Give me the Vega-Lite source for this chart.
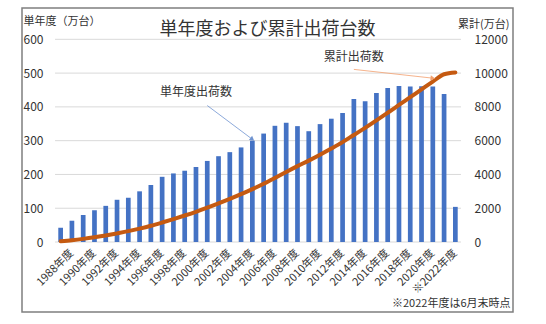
{
  "$schema": "https://vega.github.io/schema/vega-lite/v6.json",
  "autosize": {"type": "none"},
  "padding": {"left": 22, "top": 8, "right": 33, "bottom": 12},
  "width": 491,
  "height": 304,
  "background": "white",
  "config": {
    "view": {"stroke": "#7f7f7f", "strokeWidth": 1.5},
    "font": "Noto Sans CJK JP",
    "text": {"font": "Noto Sans CJK JP"}
  },
  "title": {
    "text": "単年度および累計出荷台数",
    "fontSize": 18,
    "fontWeight": "normal",
    "color": "#333333",
    "anchor": "middle",
    "frame": "group",
    "baseline": "middle",
    "offset": -40
  },
  "datasets": {
    "main": [
      {"year": 1987, "single": 42, "cumulative": 42},
      {"year": 1988, "single": 63, "cumulative": 105},
      {"year": 1989, "single": 80, "cumulative": 185},
      {"year": 1990, "single": 94, "cumulative": 279},
      {"year": 1991, "single": 107, "cumulative": 386},
      {"year": 1992, "single": 125, "cumulative": 511},
      {"year": 1993, "single": 131, "cumulative": 642},
      {"year": 1994, "single": 150, "cumulative": 792},
      {"year": 1995, "single": 169, "cumulative": 961},
      {"year": 1996, "single": 193, "cumulative": 1154},
      {"year": 1997, "single": 203, "cumulative": 1357},
      {"year": 1998, "single": 211, "cumulative": 1568},
      {"year": 1999, "single": 222, "cumulative": 1790},
      {"year": 2000, "single": 240, "cumulative": 2030},
      {"year": 2001, "single": 254, "cumulative": 2284},
      {"year": 2002, "single": 266, "cumulative": 2550},
      {"year": 2003, "single": 280, "cumulative": 2830},
      {"year": 2004, "single": 300, "cumulative": 3130},
      {"year": 2005, "single": 321, "cumulative": 3451},
      {"year": 2006, "single": 344, "cumulative": 3795},
      {"year": 2007, "single": 353, "cumulative": 4148},
      {"year": 2008, "single": 343, "cumulative": 4491},
      {"year": 2009, "single": 328, "cumulative": 4819},
      {"year": 2010, "single": 349, "cumulative": 5168},
      {"year": 2011, "single": 365, "cumulative": 5533},
      {"year": 2012, "single": 382, "cumulative": 5915},
      {"year": 2013, "single": 423, "cumulative": 6338},
      {"year": 2014, "single": 417, "cumulative": 6755},
      {"year": 2015, "single": 441, "cumulative": 7196},
      {"year": 2016, "single": 456, "cumulative": 7652},
      {"year": 2017, "single": 462, "cumulative": 8114},
      {"year": 2018, "single": 460, "cumulative": 8574},
      {"year": 2019, "single": 461, "cumulative": 9035},
      {"year": 2020, "single": 460, "cumulative": 9495},
      {"year": 2021, "single": 438, "cumulative": 9933},
      {"year": 2022, "single": 104, "cumulative": 10037}
    ],
    "grid": [
      {"v": 0, "from": 1987, "to": 2022},
      {"v": 100, "from": 1987, "to": 2022},
      {"v": 200, "from": 1987, "to": 2022},
      {"v": 300, "from": 1987, "to": 2022},
      {"v": 400, "from": 1987, "to": 2022},
      {"v": 500, "from": 1987, "to": 2022},
      {"v": 600, "from": 1987, "to": 2022}
    ],
    "notes": [
      {"id": 1, "label": "単年度出荷数", "year": 1999, "value": 443},
      {"id": 2, "label": "累計出荷数", "year": 2013, "value": 548}
    ],
    "arrows": [
      {"id": 1, "year": 2000, "value": 404, "year2": 2004, "value2": 304},
      {"id": 2, "year": 2013, "value": 511, "year2": 2020, "value2": 485}
    ]
  },
  "layer": [
    {
      "data": {"name": "grid"},
      "mark": {"type": "rule", "color": "#d9d9d9", "strokeWidth": 1, "xOffset": -5.6, "x2Offset": 5.6},
      "encoding": {
        "x": {"field": "from", "type": "ordinal",
              "scale": {"type": "band", "range": [33, 439], "paddingInner": 0.583, "paddingOuter": 0.2915},
              "axis": {"orient": "bottom", "title": "※2022年度は6月末時点", "titleX": 488, "titleY": 61, "titleAlign": "right", "titleBaseline": "middle", "titleFontSize": 11, "titleFontWeight": "normal", "titleColor": "#333333", "labelAngle": -45, "labelAlign": "right", "labelBaseline": "middle", "labelPadding": 9, "labelFontSize": 11, "labelColor": "#333333", "labelOverlap": false, "labelExpr": "datum.value % 2 == 0 ? (datum.value == 2022 ? '※2022年度' : datum.value + '年度') : ''", "ticks": false, "domain": false, "grid": false, "offset": -70}},
        "x2": {"field": "to"},
        "y": {"field": "v", "type": "quantitative", "axis": null,
              "scale": {"domain": [-207.2, 692.7], "nice": false, "zero": false}}
      }
    },
    {
      "data": {"name": "main"},
      "mark": {"type": "bar", "color": "#4472C4"},
      "encoding": {
        "x": {"field": "year", "type": "ordinal",
              "scale": {"type": "band", "range": [33, 439], "paddingInner": 0.583, "paddingOuter": 0.2915},
              "axis": {"orient": "bottom", "title": "※2022年度は6月末時点", "titleX": 488, "titleY": 61, "titleAlign": "right", "titleBaseline": "middle", "titleFontSize": 11, "titleFontWeight": "normal", "titleColor": "#333333", "labelAngle": -45, "labelAlign": "right", "labelBaseline": "middle", "labelPadding": 9, "labelFontSize": 11, "labelColor": "#333333", "labelOverlap": false, "labelExpr": "datum.value % 2 == 0 ? (datum.value == 2022 ? '※2022年度' : datum.value + '年度') : ''", "ticks": false, "domain": false, "grid": false, "offset": -70}},
        "y": {
          "field": "single", "type": "quantitative",
          "scale": {"domain": [-207.2, 692.7], "nice": false, "zero": false},
          "axis": {
            "values": [0, 100, 200, 300, 400, 500, 600],
            "title": "単年度（万台）", "titleAngle": 0, "titleX": -20, "titleY": 13.7,
            "titleAlign": "left", "titleBaseline": "middle", "titleFontSize": 11,
            "titleFontWeight": "normal", "titleColor": "#333333",
            "labelFontSize": 12, "labelColor": "#333333", "labelPadding": 0,
            "ticks": false, "domain": false, "grid": false, "offset": -21, "orient": "left"
          }
        },
        "y2": {"datum": 0}
      }
    },
    {
      "data": {"name": "main"},
      "mark": {"type": "line", "color": "#C55A11", "strokeWidth": 4, "interpolate": "monotone", "strokeCap": "round"},
      "encoding": {
        "x": {"field": "year", "type": "ordinal",
              "scale": {"type": "band", "range": [33, 439], "paddingInner": 0.583, "paddingOuter": 0.2915},
              "axis": {"orient": "bottom", "title": "※2022年度は6月末時点", "titleX": 488, "titleY": 61, "titleAlign": "right", "titleBaseline": "middle", "titleFontSize": 11, "titleFontWeight": "normal", "titleColor": "#333333", "labelAngle": -45, "labelAlign": "right", "labelBaseline": "middle", "labelPadding": 9, "labelFontSize": 11, "labelColor": "#333333", "labelOverlap": false, "labelExpr": "datum.value % 2 == 0 ? (datum.value == 2022 ? '※2022年度' : datum.value + '年度') : ''", "ticks": false, "domain": false, "grid": false, "offset": -70}},
        "y": {
          "field": "cumulative", "type": "quantitative",
          "scale": {"domain": [-4144, 13854], "nice": false, "zero": false},
          "axis": {
            "orient": "right",
            "values": [0, 2000, 4000, 6000, 8000, 10000, 12000],
            "format": "d",
            "title": "累計(万台)", "titleAngle": 0, "titleX": 35, "titleY": 16.5,
            "titleAlign": "right", "titleBaseline": "middle", "titleFontSize": 11,
            "titleFontWeight": "normal", "titleColor": "#333333",
            "labelFontSize": 12, "labelColor": "#333333", "labelPadding": 0, "labelAlign": "left",
            "ticks": false, "domain": false, "grid": false, "offset": -39
          }
        }
      }
    },
    {
      "data": {"name": "notes"},
      "mark": {"type": "text", "fontSize": 12, "color": "#333333", "baseline": "middle"},
      "encoding": {
        "x": {"field": "year", "type": "ordinal",
              "scale": {"type": "band", "range": [33, 439], "paddingInner": 0.583, "paddingOuter": 0.2915},
              "axis": {"orient": "bottom", "title": "※2022年度は6月末時点", "titleX": 488, "titleY": 61, "titleAlign": "right", "titleBaseline": "middle", "titleFontSize": 11, "titleFontWeight": "normal", "titleColor": "#333333", "labelAngle": -45, "labelAlign": "right", "labelBaseline": "middle", "labelPadding": 9, "labelFontSize": 11, "labelColor": "#333333", "labelOverlap": false, "labelExpr": "datum.value % 2 == 0 ? (datum.value == 2022 ? '※2022年度' : datum.value + '年度') : ''", "ticks": false, "domain": false, "grid": false, "offset": -70}},
        "y": {"field": "value", "type": "quantitative", "axis": null,
              "scale": {"domain": [-207.2, 692.7], "nice": false, "zero": false}},
        "text": {"field": "label"}
      }
    },
    {
      "data": {"name": "arrows"},
      "transform": [{"filter": "datum.id == 1"}],
      "mark": {"type": "rule", "color": "#6F93D0", "strokeWidth": 0.8},
      "encoding": {
        "x": {"field": "year", "type": "ordinal",
              "scale": {"type": "band", "range": [33, 439], "paddingInner": 0.583, "paddingOuter": 0.2915},
              "axis": {"orient": "bottom", "title": "※2022年度は6月末時点", "titleX": 488, "titleY": 61, "titleAlign": "right", "titleBaseline": "middle", "titleFontSize": 11, "titleFontWeight": "normal", "titleColor": "#333333", "labelAngle": -45, "labelAlign": "right", "labelBaseline": "middle", "labelPadding": 9, "labelFontSize": 11, "labelColor": "#333333", "labelOverlap": false, "labelExpr": "datum.value % 2 == 0 ? (datum.value == 2022 ? '※2022年度' : datum.value + '年度') : ''", "ticks": false, "domain": false, "grid": false, "offset": -70}},
        "x2": {"field": "year2"},
        "y": {"field": "value", "type": "quantitative", "axis": null,
              "scale": {"domain": [-207.2, 692.7], "nice": false, "zero": false}},
        "y2": {"field": "value2"}
      }
    },
    {
      "data": {"name": "arrows"},
      "transform": [{"filter": "datum.id == 1"}],
      "mark": {"type": "point", "shape": "triangle-right", "filled": true, "size": 28, "angle": 37, "color": "#6F93D0", "opacity": 1},
      "encoding": {
        "x": {"field": "year2", "type": "ordinal",
              "scale": {"type": "band", "range": [33, 439], "paddingInner": 0.583, "paddingOuter": 0.2915},
              "axis": {"orient": "bottom", "title": "※2022年度は6月末時点", "titleX": 488, "titleY": 61, "titleAlign": "right", "titleBaseline": "middle", "titleFontSize": 11, "titleFontWeight": "normal", "titleColor": "#333333", "labelAngle": -45, "labelAlign": "right", "labelBaseline": "middle", "labelPadding": 9, "labelFontSize": 11, "labelColor": "#333333", "labelOverlap": false, "labelExpr": "datum.value % 2 == 0 ? (datum.value == 2022 ? '※2022年度' : datum.value + '年度') : ''", "ticks": false, "domain": false, "grid": false, "offset": -70}},
        "y": {"field": "value2", "type": "quantitative", "axis": null,
              "scale": {"domain": [-207.2, 692.7], "nice": false, "zero": false}}
      }
    },
    {
      "data": {"name": "arrows"},
      "transform": [{"filter": "datum.id == 2"}],
      "mark": {"type": "rule", "color": "#F2A06E", "strokeWidth": 0.8},
      "encoding": {
        "x": {"field": "year", "type": "ordinal",
              "scale": {"type": "band", "range": [33, 439], "paddingInner": 0.583, "paddingOuter": 0.2915},
              "axis": {"orient": "bottom", "title": "※2022年度は6月末時点", "titleX": 488, "titleY": 61, "titleAlign": "right", "titleBaseline": "middle", "titleFontSize": 11, "titleFontWeight": "normal", "titleColor": "#333333", "labelAngle": -45, "labelAlign": "right", "labelBaseline": "middle", "labelPadding": 9, "labelFontSize": 11, "labelColor": "#333333", "labelOverlap": false, "labelExpr": "datum.value % 2 == 0 ? (datum.value == 2022 ? '※2022年度' : datum.value + '年度') : ''", "ticks": false, "domain": false, "grid": false, "offset": -70}},
        "x2": {"field": "year2"},
        "y": {"field": "value", "type": "quantitative", "axis": null,
              "scale": {"domain": [-207.2, 692.7], "nice": false, "zero": false}},
        "y2": {"field": "value2"}
      }
    },
    {
      "data": {"name": "arrows"},
      "transform": [{"filter": "datum.id == 2"}],
      "mark": {"type": "point", "shape": "triangle-right", "filled": true, "size": 28, "angle": 6, "color": "#F2A06E", "opacity": 1},
      "encoding": {
        "x": {"field": "year2", "type": "ordinal",
              "scale": {"type": "band", "range": [33, 439], "paddingInner": 0.583, "paddingOuter": 0.2915},
              "axis": {"orient": "bottom", "title": "※2022年度は6月末時点", "titleX": 488, "titleY": 61, "titleAlign": "right", "titleBaseline": "middle", "titleFontSize": 11, "titleFontWeight": "normal", "titleColor": "#333333", "labelAngle": -45, "labelAlign": "right", "labelBaseline": "middle", "labelPadding": 9, "labelFontSize": 11, "labelColor": "#333333", "labelOverlap": false, "labelExpr": "datum.value % 2 == 0 ? (datum.value == 2022 ? '※2022年度' : datum.value + '年度') : ''", "ticks": false, "domain": false, "grid": false, "offset": -70}},
        "y": {"field": "value2", "type": "quantitative", "axis": null,
              "scale": {"domain": [-207.2, 692.7], "nice": false, "zero": false}}
      }
    }
  ],
  "resolve": {"scale": {"y": "independent"}}
}
